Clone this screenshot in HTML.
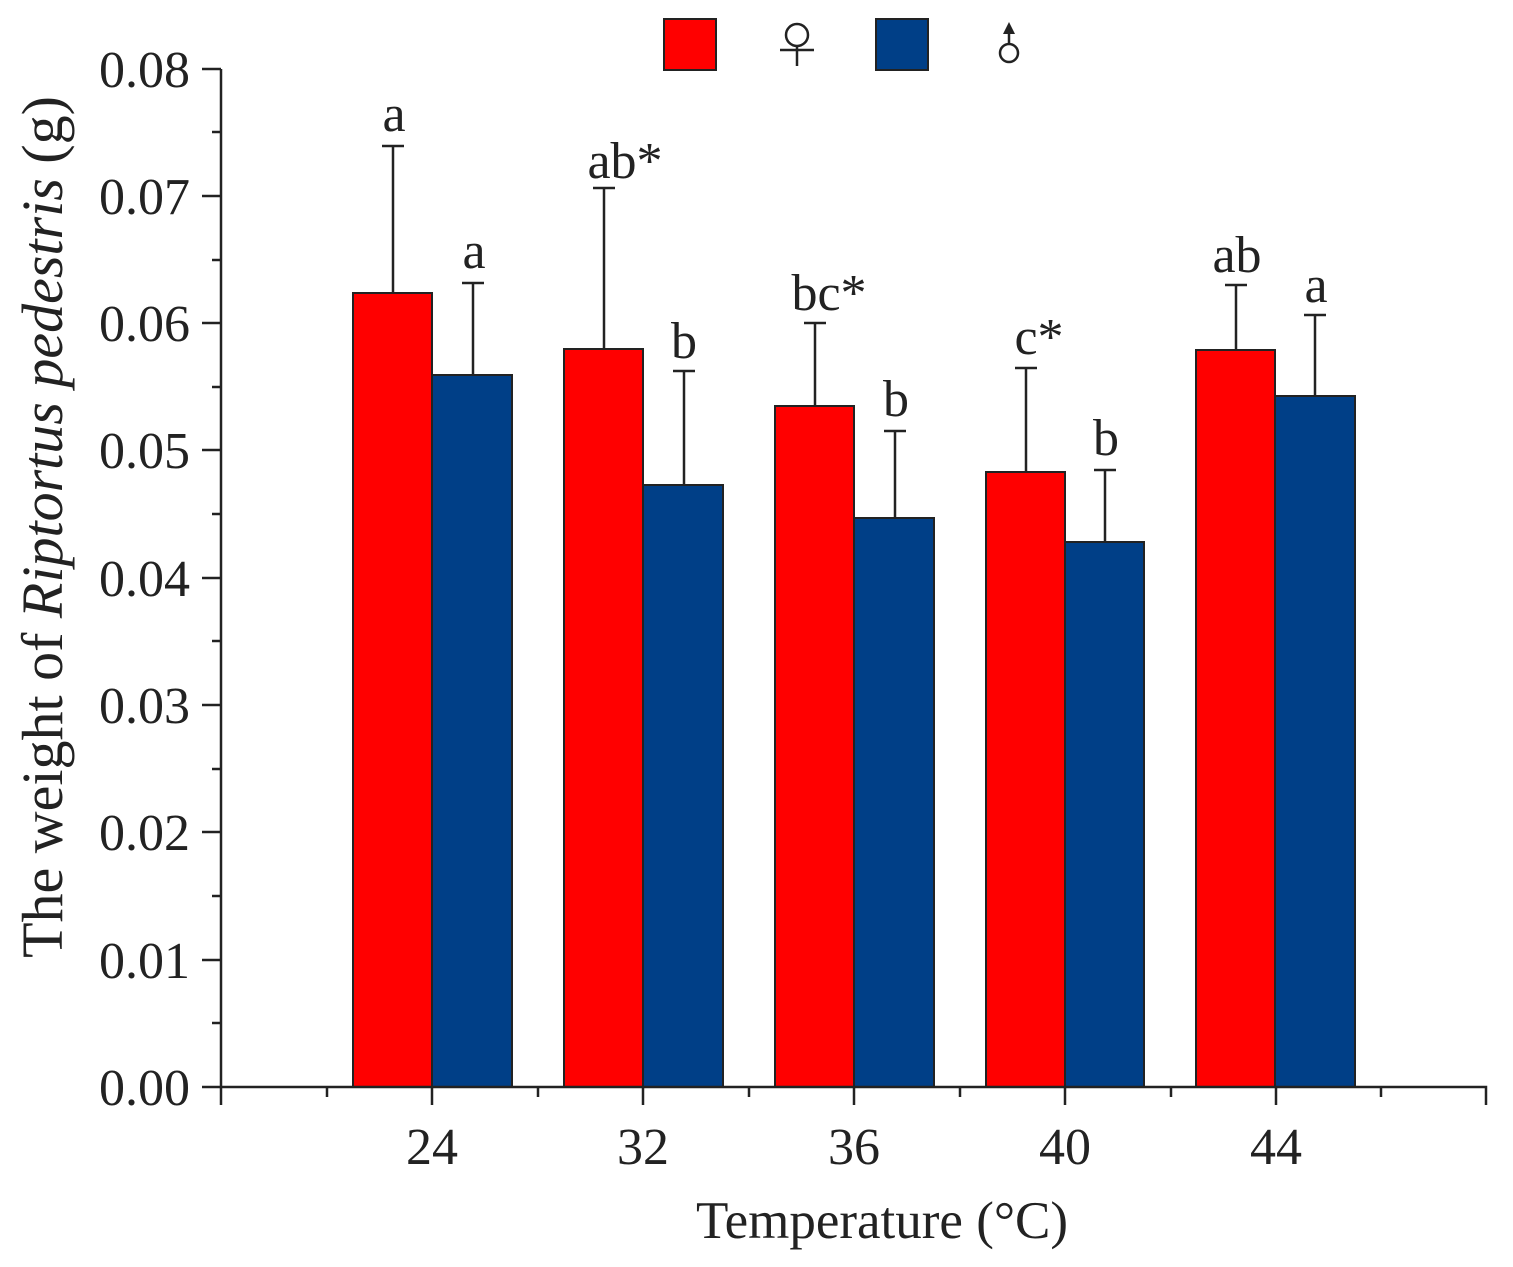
<!DOCTYPE html>
<html><head><meta charset="utf-8"><style>html,body{margin:0;padding:0;background:#fff}svg{display:block}</style></head>
<body>
<svg width="1513" height="1267" xmlns="http://www.w3.org/2000/svg" font-family="Liberation Serif, serif" fill="#222">
<!-- legend -->
<rect x="664" y="19" width="52" height="51" fill="#ff0000" stroke="#222" stroke-width="2"/>
<g stroke="#222" stroke-width="2.5" fill="none">
<circle cx="797" cy="35" r="11"/><line x1="797" y1="46" x2="797" y2="66"/><line x1="780" y1="50" x2="814" y2="50"/>
</g>
<rect x="876" y="19" width="52" height="51" fill="#003f87" stroke="#222" stroke-width="2"/>
<g stroke="#222" stroke-width="2.5" fill="none">
<circle cx="1009" cy="53" r="9"/><line x1="1009" y1="44" x2="1009" y2="30"/>
</g>
<polygon points="1009,22 1003,34 1015,34" fill="#222"/>
<!-- bars -->
<g stroke="#222" stroke-width="2">
<rect x="353" y="293" width="79" height="794" fill="#ff0000"/>
<rect x="432" y="375" width="80" height="712" fill="#003f87"/>
<rect x="564" y="349" width="79" height="738" fill="#ff0000"/>
<rect x="643" y="485" width="80" height="602" fill="#003f87"/>
<rect x="775" y="406" width="79" height="681" fill="#ff0000"/>
<rect x="854" y="518" width="80" height="569" fill="#003f87"/>
<rect x="986" y="472" width="79" height="615" fill="#ff0000"/>
<rect x="1065" y="542" width="79" height="545" fill="#003f87"/>
<rect x="1196" y="350" width="79" height="737" fill="#ff0000"/>
<rect x="1275" y="396" width="80" height="691" fill="#003f87"/>
</g>
<!-- error bars -->
<g stroke="#222" stroke-width="2.5">
<path d="M393 293V146M382 146H404"/>
<path d="M473 375V283M462 283H484"/>
<path d="M604 349V188M593 188H615"/>
<path d="M684 485V371M673 371H695"/>
<path d="M815 406V323M804 323H826"/>
<path d="M895 518V431M884 431H906"/>
<path d="M1026 472V368M1015 368H1037"/>
<path d="M1105 542V470M1094 470H1116"/>
<path d="M1236 350V285M1225 285H1247"/>
<path d="M1315 396V315M1304 315H1326"/>
</g>
<!-- letters -->
<g font-size="52" text-anchor="middle">
<text x="394" y="131">a</text>
<text x="474" y="268">a</text>
<text x="625" y="178">ab*</text>
<text x="684" y="358">b</text>
<text x="829" y="310">bc*</text>
<text x="896" y="416">b</text>
<text x="1039" y="354">c*</text>
<text x="1106" y="455">b</text>
<text x="1237" y="272">ab</text>
<text x="1316" y="302">a</text>
</g>
<!-- axes -->
<g stroke="#222" stroke-width="2.5" fill="none">
<path d="M221 69V1087H1486V1105"/>
<path d="M202 69H221M202 196H221M202 323H221M202 450H221M202 578H221M202 705H221M202 832H221M202 960H221M202 1087H221"/>
<path d="M212 132H221M212 260H221M212 387H221M212 514H221M212 641H221M212 769H221M212 896H221M212 1023H221"/>
<path d="M221 1087V1105M432 1087V1105M643 1087V1105M854 1087V1105M1065 1087V1105M1276 1087V1105"/>
<path d="M327 1087V1097M538 1087V1097M749 1087V1097M960 1087V1097M1171 1087V1097M1381 1087V1097"/>
</g>
<g font-size="52" text-anchor="end">
<text x="190" y="87">0.08</text>
<text x="190" y="214">0.07</text>
<text x="190" y="341">0.06</text>
<text x="190" y="468">0.05</text>
<text x="190" y="596">0.04</text>
<text x="190" y="723">0.03</text>
<text x="190" y="850">0.02</text>
<text x="190" y="978">0.01</text>
<text x="190" y="1105">0.00</text>
</g>
<g font-size="52" text-anchor="middle">
<text x="432" y="1164">24</text>
<text x="643" y="1164">32</text>
<text x="854" y="1164">36</text>
<text x="1065" y="1164">40</text>
<text x="1276" y="1164">44</text>
</g>
<text x="882" y="1238" font-size="53" text-anchor="middle">Temperature (°C)</text>
<text transform="translate(62,527) rotate(-90)" font-size="58" text-anchor="middle">The weight of <tspan font-style="italic">Riptortus pedestris</tspan> (g)</text>
</svg>
</body></html>
